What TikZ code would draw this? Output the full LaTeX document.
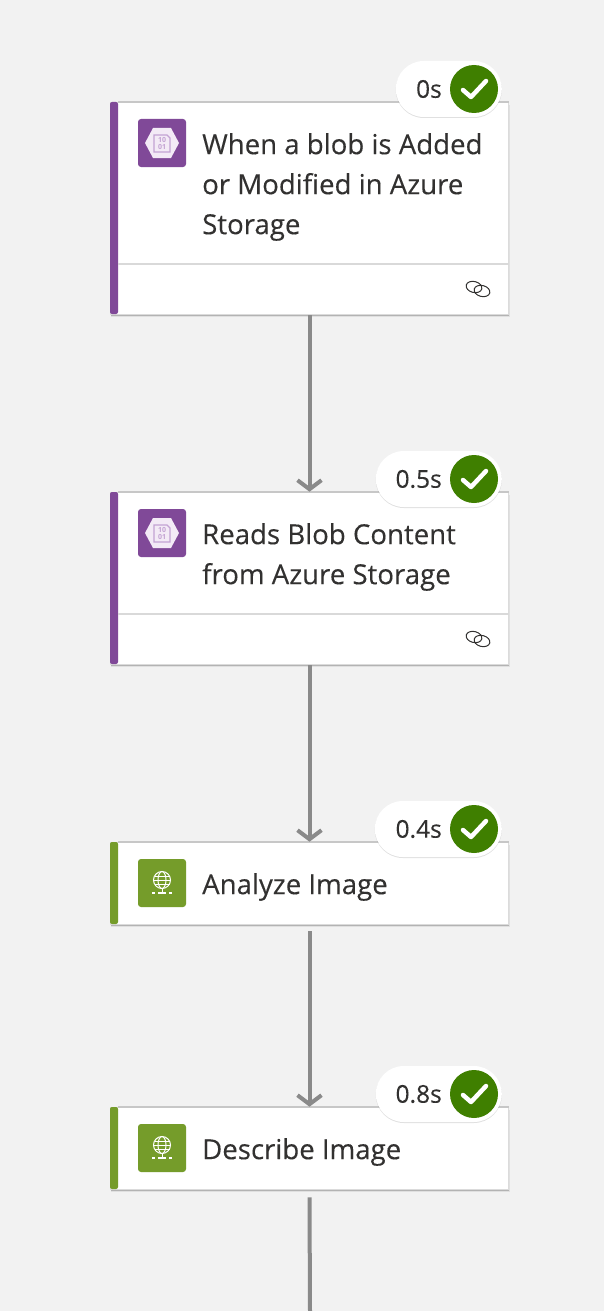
\documentclass[tikz,border=0pt]{standalone}
\usepackage{fontspec}
\setmainfont{Open Sans}
\usetikzlibrary{arrows.meta,shadows}
\definecolor{pagebg}{HTML}{F2F2F2}
\definecolor{inkdark}{HTML}{323130}
\definecolor{flowgray}{HTML}{8A8A8A}
\definecolor{blobpurple}{HTML}{804998}
\definecolor{visiongreen}{HTML}{759C2A}
\definecolor{okgreen}{HTML}{3F7F00}
\definecolor{hexlilac}{HTML}{F3EAF6}
\definecolor{hexline}{HTML}{C3A3D3}
\definecolor{rulegray}{HTML}{D9D9D9}
\begin{document}
\begin{tikzpicture}[x=1pt,y=-1pt,
    card/.style={draw=black!14, line width=0.6pt, fill=white, minimum width=398.5pt, inner sep=0pt,
        general shadow={shadow xshift=1pt, shadow yshift=-3pt, fill=black, opacity=0.07},
        general shadow={shadow xshift=0.5pt, shadow yshift=-1.5pt, fill=black, opacity=0.20}},
    icon/.style={minimum size=48pt, inner sep=0pt, rounded corners=3pt},
    caption/.style={anchor=north west, inner sep=0pt, align=left, text=inkdark,
        font=\fontsize{27.6}{40}\selectfont\addfontfeature{FakeBold=0.2}},
    pill/.style={fill=white, anchor=east, minimum height=56pt, rounded corners=28pt, inner sep=0pt,
        general shadow={shadow yshift=-1pt, fill=black, opacity=0.12}},
    secs/.style={anchor=east, inner sep=0pt, text=inkdark, font=\fontsize{24.5}{24}\selectfont\addfontfeature{FakeBold=0.2}},
    okdot/.style={circle, fill=okgreen, minimum size=48pt, inner sep=0pt},
    tick/.style={draw=white, line width=4.5pt, line cap=round, line join=round},
    flow/.style={draw=flowgray, line width=4pt, -{Straight Barb[length=9pt,width=24pt,line width=4pt]}},
    flowend/.style={draw=flowgray, line width=4pt}]
    \useasboundingbox (0,0) rectangle (604,1311);
    \fill[pagebg] (0,0) rectangle (604,1311);

    % connectors go first, the cards sit on them
    \coordinate (tail) at (310,1311);

    \foreach \name/\top/\high/\tint/\wide/\time/\words in {
        blobA/102/212/blobpurple/106/0s/{When a blob is Added\\or Modified in Azure\\Storage},
        readB/492/172/blobpurple/126/0.5s/{Reads Blob Content\\from Azure Storage},
        analyzeC/842/82/visiongreen/127/0.4s/{Analyze Image},
        describeD/1107/82/visiongreen/126/0.8s/{Describe Image}} {
        \pgfmathsetmacro{\midy}{\top+\high/2}
        \pgfmathsetmacro{\icony}{\top+41}
        \pgfmathsetmacro{\texty}{\top+24}
        \pgfmathsetmacro{\pilly}{\top-13}
        \node[card, minimum height=\high pt] (\name) at (309.5,\midy) {};
        \draw[black!22, line width=1.6pt] (118,\top) -- (509,\top);
        \fill[\tint, rounded corners=2pt] (110,\top) rectangle (118,\top+\high);
        \node[icon, fill=\tint] (icon\name) at (162,\icony) {};
        \node[caption] (text\name) at (202,\texty+7) {\words};
        \node[pill, minimum width=\wide pt] (pill\name) at (502,\pilly) {};
        \node[secs] (time\name) at (442,\pilly) {\time};
        \node[okdot] (ok\name) at (474,\pilly) {};
        \draw[tick] ([shift={(-11,1)}]ok\name.center) -- ([shift={(-3,8)}]ok\name.center) -- ([shift={(12,-8)}]ok\name.center);
    }

    \draw[flow] ([yshift=-1pt]blobA.south) -- (readB.north);
    \draw[flow] ([yshift=-1pt]readB.south) -- (analyzeC.north);
    \draw[flow] ([yshift=-7pt]analyzeC.south) -- (describeD.north);
    \draw[flowend] ([yshift=-8pt]describeD.south) -- (tail);

    % storage icons and link marks
    \foreach \name/\ruley in {blobA/264, readB/614} {
        \draw[rulegray, line width=1.5pt] (118,\ruley) -- (509,\ruley);
        \fill[hexlilac, shift={(icon\name.center)}] (-17,0) -- (-9,-15) -- (9,-15) -- (17,0) -- (9,15) -- (-9,15) -- cycle;
        \draw[hexline, line width=1.1pt, shift={(icon\name.center)}] (-8,-8) -- (5,-8) -- (8,-5) -- (8,9) -- (-8,9) -- cycle;
        \node[inner sep=0pt, align=center, text=hexline, font=\fontsize{7}{7}\bfseries\selectfont] (bits\name) at (icon\name.center) {10\\01};
        \draw[inkdark, line width=1pt, rotate around={-14:(474,\ruley+23)}] (474,\ruley+23) ellipse (8pt and 5.5pt);
        \draw[inkdark, line width=1pt, rotate around={-14:(482,\ruley+27)}] (482,\ruley+27) ellipse (8pt and 5.5pt);
    }

    % web service icons
    \foreach \name in {analyzeC, describeD} {
        \begin{scope}[shift={(icon\name.center)}, draw=white, line width=1pt]
            \draw (0,-3) circle (8.5pt);
            \draw (0,-3) ellipse (4pt and 8.5pt);
            \draw (-8.5,-3) -- (8.5,-3);
            \draw (-7.5,-7) -- (7.5,-7);
            \draw (-7.5,1) -- (7.5,1);
            \draw (0,5.5) -- (0,10);
            \draw[line width=2pt] (-4,10) -- (4,10);
            \draw[line width=2pt] (-10,10) -- (-7,10);
            \draw[line width=2pt] (7,10) -- (10,10);
        \end{scope}
    }
\end{tikzpicture}
\end{document}
